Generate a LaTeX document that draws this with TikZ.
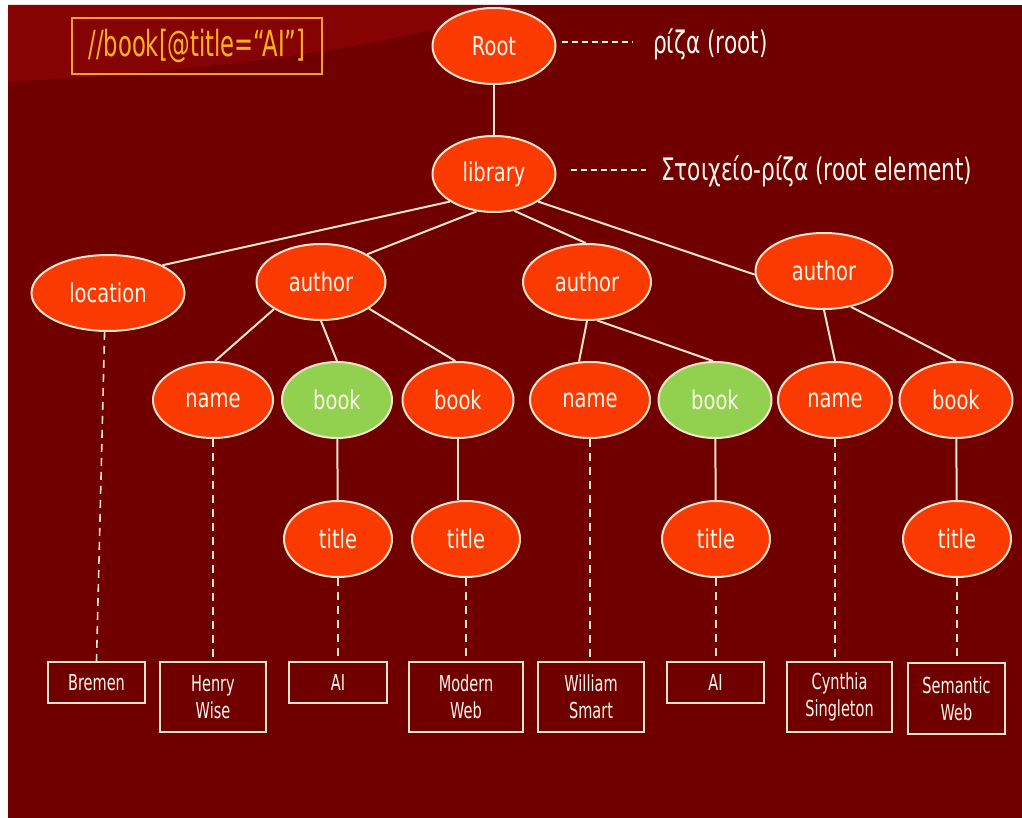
\documentclass[tikz,border=0pt]{standalone}
\usepackage{fontspec}
\setmainfont{DejaVu Sans}[FakeStretch=0.75]
\newfontfamily\boxfont{DejaVu Sans}[FakeStretch=0.66]
\newfontfamily\lblfont{DejaVu Sans}[FakeStretch=0.70]
\newfontfamily\qfont{DejaVu Sans}[FakeStretch=0.63]
\usetikzlibrary{shapes.geometric}
\definecolor{bgdark}{RGB}{112,0,0}
\definecolor{bglight}{RGB}{134,3,3}
\definecolor{nodefill}{RGB}{250,58,0}
\definecolor{nodegreen}{RGB}{146,208,80}
\definecolor{cream}{RGB}{245,228,205}
\definecolor{txt}{RGB}{255,246,236}
\definecolor{qorange}{RGB}{255,178,30}
\definecolor{qbox}{RGB}{240,160,40}
\begin{document}
\begin{tikzpicture}[x=1pt,y=-1pt,
 elem/.style={ellipse, draw=cream, line width=2pt, fill=nodefill, text=txt, inner sep=0pt, font=\fontsize{26}{30}\selectfont},
 hit/.style={elem, fill=nodegreen},
 val/.style={draw=cream, line width=1.6pt, text=txt, inner sep=0pt, align=center, font=\boxfont\fontsize{22}{27}\selectfont},
 edge/.style={draw=cream, line width=2pt},
 ref/.style={draw=cream, line width=1.6pt, dash pattern=on 8pt off 6pt},
 annot/.style={draw=txt, line width=1.4pt, dash pattern=on 6pt off 4pt},
 lbl/.style={text=txt, inner sep=0pt, font=\lblfont\fontsize{31}{36}\selectfont}]
\useasboundingbox (0,0) rectangle (1022,818);
\fill[white] (0,0) rectangle (1022,818);
\fill[bgdark] (8,5) rectangle (1022,818);
\fill[bglight] (8,5) -- (8,82) .. controls (250,68) and (400,45) .. (520,5) -- cycle;

% query
\node[draw=qbox, line width=2pt, text=qorange, minimum width=250pt, minimum height=56pt, inner sep=0pt, font=\qfont\fontsize{36}{40}\selectfont] (query) at (197,46) {//book[@title=“AI”]};

% tree nodes
\node[elem, minimum width=123pt, minimum height=76pt] (root) at (494,46) {Root};
\node[elem, minimum width=123pt, minimum height=76pt] (library) at (494,174) {library};
\node[elem, minimum width=153pt, minimum height=76pt] (location) at (108,293) {location};
\node[elem, minimum width=129pt, minimum height=76pt] (author1) at (321,282) {author};
\node[elem, minimum width=128pt, minimum height=76pt] (author2) at (587,282) {author};
\node[elem, minimum width=137pt, minimum height=76pt] (author3) at (824,271) {author};
\node[elem, minimum width=120pt, minimum height=76pt] (name1) at (213,400) {name};
\node[hit, minimum width=110pt, minimum height=76pt] (book1) at (337,400) {book};
\node[elem, minimum width=111pt, minimum height=76pt] (book2) at (458,400) {book};
\node[elem, minimum width=120pt, minimum height=76pt] (name2) at (590,400) {name};
\node[hit, minimum width=113pt, minimum height=76pt] (book3) at (715,400) {book};
\node[elem, minimum width=114pt, minimum height=76pt] (name3) at (835,400) {name};
\node[elem, minimum width=113pt, minimum height=76pt] (book4) at (956,400) {book};
\node[elem, minimum width=108pt, minimum height=76pt] (title1) at (338,539) {title};
\node[elem, minimum width=108pt, minimum height=76pt] (title2) at (466,539) {title};
\node[elem, minimum width=108pt, minimum height=76pt] (title3) at (716,539) {title};
\node[elem, minimum width=108pt, minimum height=76pt] (title4) at (957,539) {title};

% value boxes
\node[val, minimum width=97pt, minimum height=41pt] (bremen) at (96.5,682.5) {Bremen};
\node[val, minimum width=106pt, minimum height=70pt] (henry) at (213,697) {Henry\\Wise};
\node[val, minimum width=98pt, minimum height=41pt] (ai1) at (338,682.5) {AI};
\node[val, minimum width=114pt, minimum height=70pt] (modern) at (466,697) {Modern\\Web};
\node[val, minimum width=106pt, minimum height=70pt] (william) at (591,697) {William\\Smart};
\node[val, minimum width=97pt, minimum height=41pt] (ai2) at (715.5,682.5) {AI};
\node[val, minimum width=105pt, minimum height=70pt] (cynthia) at (839.5,697) {Cynthia\\Singleton};
\node[val, minimum width=97pt, minimum height=71pt] (semantic) at (956.5,698.5) {Semantic\\Web};

% tree edges
\draw[edge] (root) -- (library);
\draw[edge] (library.212) -- (location.27);
\draw[edge] (library.245) -- (author1.31);
\draw[edge] (library.299) -- (author2.92);
\draw[edge] (library.328) -- (author3.183);
\draw[edge] (author1.210) -- (name1.87);
\draw[edge] (author1.south) -- (book1.north);
\draw[edge] (author1.331) -- (book2.94);
\draw[edge] (author2.south) -- (name2.106);
\draw[edge] (author2.285) -- (book3.93);
\draw[edge] (author3.south) -- (name3.north);
\draw[edge] (author3.307) -- (book4.north);
\draw[edge] (book1) -- (title1);
\draw[edge] (book2.south) -- (book2.south |- title2.north);
\draw[edge] (book3) -- (title3);
\draw[edge] (book4) -- (title4);

% text-value links
\draw[ref] (location.265) -- (bremen.north);
\draw[ref] (name1.south) -- (name1.south |- henry.north);
\draw[ref] (title1.south) -- (title1.south |- ai1.north);
\draw[ref] (title2.south) -- (title2.south |- modern.north);
\draw[ref] (name2.south) -- (name2.south |- william.north);
\draw[ref] (title3.south) -- (title3.south |- ai2.north);
\draw[ref] (name3.south) -- (name3.south |- cynthia.north);
\draw[ref] (title4.south) -- (title4.south |- semantic.north);

% annotations
\node[lbl, anchor=base west] (rootlbl) at (653,54) {ρίζα (root)};
\node[lbl, anchor=base west] (liblbl) at (661,181) {Στοιχείο-ρίζα (root element)};
\coordinate (rd1) at (562,42);
\coordinate (rd2) at (633,42);
\coordinate (ld1) at (571,170);
\coordinate (ld2) at (646,170);
\draw[annot] (rd1) -- (rd2);
\draw[annot] (ld1) -- (ld2);
\end{tikzpicture}
\end{document}
